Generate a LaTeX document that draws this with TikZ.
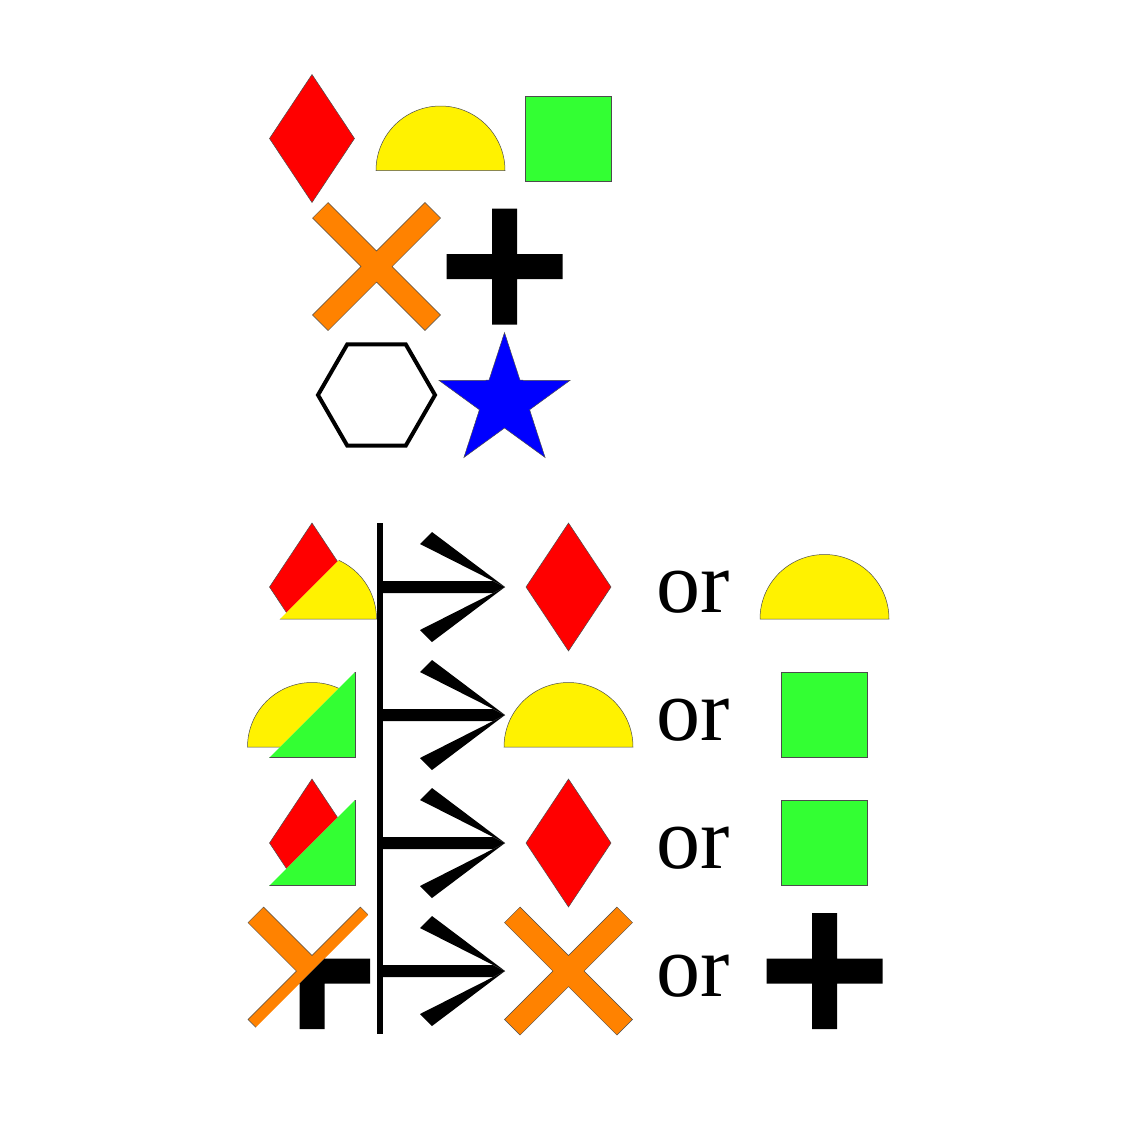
\documentclass[tikz,border=0pt]{standalone}
\usepackage{fontspec}
\setmainfont{Liberation Serif}
\usetikzlibrary{positioning}
\definecolor{leafgreen}{RGB}{51,255,51}
\definecolor{signorange}{RGB}{255,130,0}
\tikzset{
  glyph/.style={draw=black!70, line width=0.25pt},
  ortext/.style={inner sep=0pt, anchor=base, font=\fontsize{44}{44}\selectfont},
  pics/gem/.style={code={\path[glyph, fill=red] (0,-64) -- (42.5,0) -- (0,64) -- (-42.5,0) -- cycle;}},
  pics/dome/.style={code={\path[glyph, fill=yellow] (-64.5,32) arc[start angle=180, end angle=360, radius=64.5] -- cycle;}},
  pics/block/.style={code={\path[glyph, fill=leafgreen] (-43,-42.5) rectangle (43,42.5);}},
  pics/cross/.style={code={\path[glyph, fill=signorange] (0,-15.6) -- (48.4,-64) -- (64,-48.4) -- (15.6,0) -- (64,48.4) -- (48.4,64) -- (0,15.6) -- (-48.4,64) -- (-64,48.4) -- (-15.6,0) -- (-64,-48.4) -- (-48.4,-64) -- cycle;}},
  pics/plus/.style={code={\fill (-12.5,-58) -- (12.5,-58) -- (12.5,-12.5) -- (58,-12.5) -- (58,12.5) -- (12.5,12.5) -- (12.5,58) -- (-12.5,58) -- (-12.5,12.5) -- (-58,12.5) -- (-58,-12.5) -- (-12.5,-12.5) -- cycle;}},
  pics/hexa/.style={code={\draw[line width=2pt] (0:58.5) -- (60:58.5) -- (120:58.5) -- (180:58.5) -- (240:58.5) -- (300:58.5) -- cycle;}},
  pics/starglyph/.style={code={\path[glyph, fill=blue, shift={(0,6.6)}] (270:69) \foreach \a in {0,72,...,288} {-- (306+\a:26.4) -- (342+\a:69)} -- cycle;}},
  pics/pair/.style 2 args={code={
    \begin{scope}\clip (-100,100) -- (-100,-100) -- (100,-100) -- cycle; \pic {#1}; \end{scope}
    \begin{scope}\clip (-100,100) -- (100,100) -- (100,-100) -- cycle; \pic {#2}; \end{scope}}},
  pics/infer/.style={code={
    \fill (0,-6) -- (113,-6) -- (125,0) -- (113,6) -- (0,6) -- cycle;
    \fill (40,-43) -- (52,-55) -- (125,0) -- cycle;
    \fill (40,43) -- (52,55) -- (125,0) -- cycle;}}
}

\begin{document}
\begin{tikzpicture}[x=0.5pt, y=-0.5pt]
\useasboundingbox (0,0) rectangle (1125,1125);
\pic at (312,138.5) {gem};
\pic at (440.5,138.5) {dome};
\pic at (568.5,138.5) {block};
\pic at (376.5,266.5) {cross};
\pic at (504.5,266.5) {plus};
\pic at (376.5,395) {hexa};
\pic at (504.5,395) {starglyph};

\coordinate (bartop) at (380,523);
\coordinate (barbot) at (380,1034);
\draw[line width=3.25pt] (bartop) -- (barbot);

\coordinate (from1) at (380,587);
\coordinate (from2) at (380,715);
\coordinate (from3) at (380,843);
\coordinate (from4) at (380,971);

\pic at (312,587) {pair={gem}{dome}};
\pic at (from1) {infer};
\pic at (568.5,587) {gem};
\node[ortext] (or1) at (693,612) {or};
\pic at (824.5,587) {dome};

\pic at (312,715) {pair={dome}{block}};
\pic at (from2) {infer};
\pic at (568.5,715) {dome};
\node[ortext] (or2) at (693,740) {or};
\pic at (824.5,715) {block};

\pic at (312,843) {pair={gem}{block}};
\pic at (from3) {infer};
\pic at (568.5,843) {gem};
\node[ortext] (or3) at (693,868) {or};
\pic at (824.5,843) {block};

\pic at (312,971) {pair={cross}{plus}};
\pic at (from4) {infer};
\pic at (568.5,971) {cross};
\node[ortext] (or4) at (693,996) {or};
\pic at (824.5,971) {plus};
\end{tikzpicture}
\end{document}
